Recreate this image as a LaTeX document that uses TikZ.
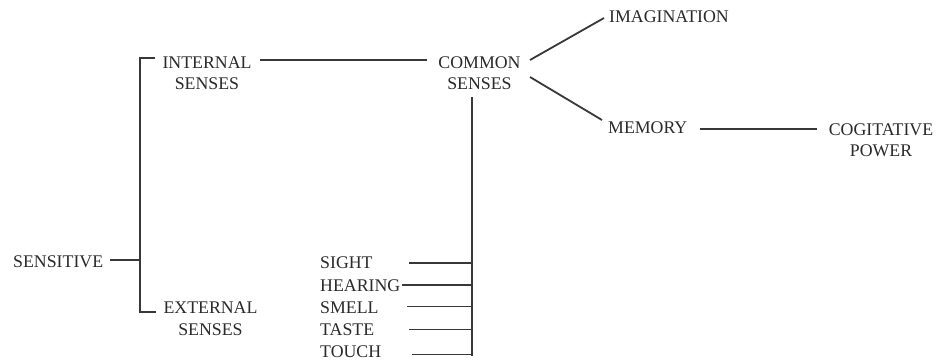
\documentclass[tikz,border=0pt]{standalone}
\usepackage{fontspec}
\setmainfont{Liberation Serif}
\usetikzlibrary{calc}
\definecolor{ink}{HTML}{2A2A2A}
\definecolor{wire}{HTML}{383838}
\begin{document}
\begin{tikzpicture}[x=1pt,y=-1pt,
  lbl/.style={font=\fontsize{17.8}{21.5}\selectfont, inner sep=0pt, text=ink, align=center},
  wireline/.style={draw=wire, line width=1.8pt}]
\useasboundingbox[fill=white] (0,0) rectangle (938,360);
% nodes
\node[lbl,anchor=west] (sens) at (13,262) {SENSITIVE};
\node[lbl] (int) at (207,73) {INTERNAL\\SENSES};
\node[lbl] (ext) at (210.5,318.5) {EXTERNAL\\SENSES};
\node[lbl] (com) at (479.5,73) {COMMON\\SENSES};
\node[lbl,anchor=west] (ima) at (609,17) {IMAGINATION};
\node[lbl,anchor=west] (mem) at (608,128) {MEMORY};
\node[lbl] (cog) at (881,140) {COGITATIVE\\POWER};
\node[lbl,anchor=west] (sig) at (320,263) {SIGHT};
\node[lbl,anchor=west] (hea) at (320,286) {HEARING};
\node[lbl,anchor=west] (sme) at (320,307.5) {SMELL};
\node[lbl,anchor=west] (tas) at (320,329.5) {TASTE};
\node[lbl,anchor=west] (tou) at (320,351.5) {TOUCH};
% helper coordinates
\coordinate (bmid) at (140,260);
\coordinate (btop) at (140,58);
\coordinate (bbot) at (140,312);
\coordinate (l1) at (0,60);
\coordinate (tickx) at (409,0);
\coordinate (vline) at (472,0);
\coordinate (vtop) at (472,97);
\coordinate (vbot) at (472,356);
\coordinate (cimg) at (530,60);
\coordinate (cmem) at (530,77);
% connectors
\draw[wireline] ($(sens.east)+(7,-2)$) -- (bmid);
\draw[wireline] ($(int.west |- btop)+(-7,0)$) -- (btop) -- (bbot) -- ($(ext.west |- bbot)+(-7,0)$);
\draw[wireline] ($(int.east |- l1)+(8,0)$) -- ($(com.west |- l1)+(-11,0)$);
\draw[wireline] (cimg) -- ($(ima.west)+(-5,1)$);
\draw[wireline] (cmem) -- ($(mem.west)+(-6,-8)$);
\draw[wireline] ($(mem.east)+(12,1)$) -- ($(cog.west |- mem.east)+(-12,1)$);
\draw[wireline] (vtop) -- (vbot);
\draw[wireline] (sig.east -| tickx) -- (sig.east -| vline);
\draw[wireline] ($(hea.east)+(2,-1)$) -- ($(hea.east -| vline)+(0,-1)$);
\draw[wireline] ($(sme.east -| tickx)+(-2,-1)$) -- ($(sme.east -| vline)+(0,-1)$);
\draw[wireline] (tas.east -| tickx) -- (tas.east -| vline);
\draw[wireline] ($(tou.east -| tickx)+(3,3)$) -- ($(tou.east -| vline)+(0,3)$);
\end{tikzpicture}
\end{document}
